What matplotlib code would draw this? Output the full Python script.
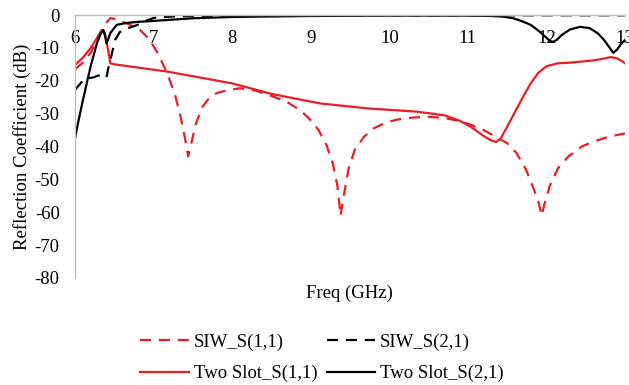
import matplotlib
matplotlib.use("Agg")
import matplotlib.pyplot as plt

# ---- data ----
siw_s11_f = [6.0, 6.1, 6.2, 6.3, 6.38, 6.45, 6.52, 6.6, 6.7, 6.83, 6.95, 7.05, 7.17, 7.27, 7.34, 7.4, 7.44,
             7.48, 7.54, 7.62, 7.7, 7.8, 7.95, 8.1, 8.3, 8.52, 8.7, 8.87, 9.0, 9.1, 9.2, 9.28, 9.34, 9.38,
             9.42, 9.48, 9.56, 9.68, 9.8, 9.95, 10.1, 10.3, 10.5, 10.7, 10.9, 11.05, 11.2, 11.35, 11.5, 11.62,
             11.74, 11.84, 11.9, 11.94, 11.98, 12.05, 12.15, 12.28, 12.45, 12.6, 12.8, 13.0]
siw_s11_db = [-16.5, -14.5, -11.5, -6.5, -2.8, -1.0, -1.2, -2.0, -3.0, -4.6, -7.5, -11.5, -17.5, -24.0, -30.5,
              -37.5, -43.0, -39.0, -33.0, -28.0, -25.5, -23.8, -22.8, -22.3, -23.0, -24.8, -26.5, -29.0, -32.0,
              -35.0, -39.5, -45.0, -52.0, -61.0, -55.0, -47.0, -41.0, -37.0, -34.5, -32.8, -31.8, -31.2,
              -31.0, -31.3, -32.3, -33.5, -35.0, -37.0, -39.0, -42.0, -47.0, -53.0, -57.0, -61.0, -57.0,
              -51.5, -46.5, -43.0, -40.0, -38.5, -37.0, -36.0]

siw_s21_f = [6.0, 6.08, 6.15, 6.23, 6.3, 6.34, 6.4, 6.43, 6.47, 6.51, 6.57, 6.65, 6.75, 6.83, 6.92, 7.0, 7.15,
             7.3, 7.6, 8.0, 9.0, 13.0]
siw_s21_db = [-22.8, -20.5, -19.3, -19.0, -18.4, -18.2, -19.0, -15.5, -11.7, -7.6, -5.2, -4.2, -3.4, -2.7,
              -1.6, -0.9, -0.6, -0.4, -0.3, -0.2, -0.1, -0.1]

slot_s11_f = [6.0, 6.1, 6.2, 6.28, 6.33, 6.36, 6.39, 6.42, 6.45, 6.5, 7.17, 8.0, 8.5, 9.12, 9.72, 10.35,
              10.7, 10.9, 11.05, 11.2, 11.3, 11.36, 11.42, 11.5, 11.6, 11.7, 11.8, 11.9, 12.0, 12.14, 12.3,
              12.43, 12.6, 12.72, 12.82, 12.9, 12.96, 13.0]
slot_s11_db = [-15.2, -13.0, -10.0, -7.0, -5.0, -4.6, -6.5, -10.5, -14.7, -15.0, -17.2, -20.8, -24.0,
               -26.9, -28.4, -29.4, -30.5, -32.2, -34.2, -36.8, -38.2, -38.6, -37.5, -34.0, -29.5, -25.0,
               -20.8, -17.5, -15.6, -14.7, -14.5, -14.2, -13.8, -13.3, -12.8, -13.2, -14.0, -14.7]

slot_s21_f = [6.0, 6.05, 6.1, 6.15, 6.2, 6.28, 6.33, 6.36, 6.38, 6.4, 6.42, 6.45, 6.53, 6.66, 6.8, 7.0, 7.5,
              8.0, 9.0, 10.0, 11.0, 11.3, 11.45, 11.58, 11.7, 11.8, 11.9, 11.98, 12.04, 12.08, 12.13, 12.2,
              12.3, 12.43, 12.55, 12.65, 12.73, 12.8, 12.85, 12.9, 12.95, 13.0]
slot_s21_db = [-37.5, -31.5, -26.0, -20.7, -15.5, -8.5, -5.5, -4.6, -6.0, -8.6, -7.5, -5.5, -3.0, -2.4,
               -2.1, -1.8, -1.0, -0.6, -0.3, -0.2, -0.2, -0.3, -0.5, -1.0, -2.0, -3.0, -4.8, -6.5, -7.8,
               -8.2, -7.6, -6.0, -4.4, -3.6, -4.0, -5.5, -7.5, -9.8, -11.5, -10.5, -8.8, -7.6]

x_ticks = [6, 7, 8, 9, 10, 11, 12, 13]
y_ticks = [0, -10, -20, -30, -40, -50, -60, -70, -80]

RED = "#ED1C24"
FS = 13.5
plt.rcParams["font.family"] = ["Liberation Serif", "DejaVu Serif"]

fig = plt.figure(figsize=(6.29, 3.85), dpi=100)
ax = fig.add_axes([75 / 629, 1 - 278 / 385, 550 / 629, 263 / 385])

lw = 1.6
l1, = ax.plot(siw_s11_f, siw_s11_db, color=RED, lw=lw, ls=(0, (5, 3.5)), label="SIW_S(1,1)")
l2, = ax.plot(siw_s21_f, siw_s21_db, color="black", lw=lw, ls=(0, (5, 3.5)), label="SIW_S(2,1)")
l3, = ax.plot(slot_s11_f, slot_s11_db, color=RED, lw=lw, label="Two Slot_S(1,1)")
l4, = ax.plot(slot_s21_f, slot_s21_db, color="black", lw=lw, label="Two Slot_S(2,1)")

ax.set_xlim(6, 13)
ax.set_ylim(-80, 0)
ax.set_xticks(x_ticks)
ax.set_yticks(y_ticks)
ax.set_yticklabels([str(v) for v in y_ticks])

for s in ["right", "bottom"]:
    ax.spines[s].set_visible(False)
for s in ["top", "left"]:
    ax.spines[s].set_color("#BFBFBF")
    ax.spines[s].set_linewidth(1.0)

ax.tick_params(axis="x", top=True, labeltop=True, bottom=False, labelbottom=False,
               length=0, pad=-23, labelsize=FS)
ax.tick_params(axis="y", length=0, pad=11, labelsize=FS)

ax.set_ylabel("Reflection Coefficient (dB)", fontsize=FS, labelpad=3)
fig.text(349 / 629, 1 - 293 / 385, "Freq (GHz)", ha="center", va="center", fontsize=FS)

fig.legend([l1, l3, l2, l4], [l1.get_label(), l3.get_label(), l2.get_label(), l4.get_label()],
           loc="center", bbox_to_anchor=(322 / 629, 1 - 358 / 385), ncol=2, frameon=False,
           fontsize=FS, handlelength=2.6, handletextpad=0.25, columnspacing=0.5,
           labelspacing=0.75)

fig.savefig("out.png", dpi=100)
